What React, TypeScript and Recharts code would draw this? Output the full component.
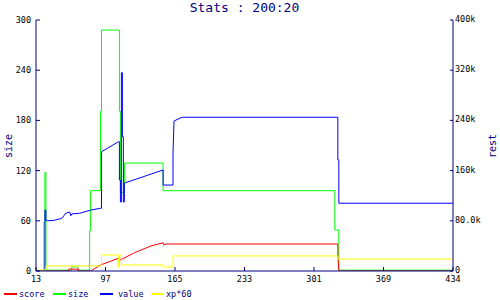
import React from 'react';
import { LineChart, Line, XAxis, YAxis } from 'recharts';

const xTickValues = [0, 70, 140, 210, 280, 350, 420];
const xTickLabels = ['13', '97', '165', '233', '301', '369', '434'];
const sizeTicks = [0, 60, 120, 180, 240, 300];
const restTicks = [0, 80, 160, 240, 320, 400];
const restTickLabels = ['0', '80.0k', '160k', '240k', '320k', '400k'];

// [x, value] pairs; size in units, others in thousands
const sizePoints: number[][] = [[0,0],[8,0],[8,58],[9,58],[9,118],[10,118],[10,1],[36,1],[36,5],[42,5],[42,1],[54,1],[54,48],[55,48],[55,96],[65,96],[65,191],[66,191],[66,288],[84,288],[84,191],[85,191],[85,94],[89,94],[89,129],[128,129],[128,96],[301,96],[301,49],[305,49],[305,1],[420,1]];
const valuePoints: number[][] = [[0,0],[9,0],[9,97],[10,97],[10,81],[12,80],[19,81],[26,84],[30,92],[34,94],[35,88],[36,91],[44,92],[55,97],[65,100],[66,100],[66,190],[83,206],[84,206],[84,145],[85,145],[85,110],[86,110],[86,316],[87,316],[87,214],[88,214],[88,110],[89,110],[89,140],[128,161],[128,137],[138,137],[138,188],[139,239],[147,245],[304,245],[304,177],[305,177],[305,108],[420,108]];
const scorePoints: number[][] = [[0,0],[33,0],[33,3],[43,3],[43,0],[55,0],[65,9.6],[76,16],[84,21],[85,17.5],[99,29],[116,40],[128,45],[129,41],[130,43],[304,43],[304,25],[305,0],[420,0]];
const xpPoints: number[][] = [[0,1.6],[10,1.6],[10,8],[66,8],[66,25.5],[83,25.5],[83,6.4],[84,6.4],[84,25.5],[86,25.5],[86,9.6],[128,9.6],[128,6.4],[138,6.4],[138,24],[304,24],[304,19],[420,19]];

const toData = (pts: number[][]) => pts.map(([x, v]) => ({ x, v }));

const NAVY = '#000080';
const MONO = '"DejaVu Sans Mono", monospace';

const legendItems = [
  { name: 'score', color: '#ff0000', lx: 4, tx: 19 },
  { name: 'size', color: '#00ff00', lx: 53, tx: 68 },
  { name: 'value', color: '#0000ff', lx: 100, tx: 118 },
  { name: 'xp*60', color: '#ffff00', lx: 151, tx: 166 },
];

export default function App() {
  const tickStyle = { fontFamily: MONO, fontSize: 8.5, fill: '#000' };
  return (
    <div style={{ position: 'absolute', left: 0, top: 0, width: 500, height: 300, background: '#fff' }}>
      <LineChart width={500} height={300} margin={{ top: 20, right: 0, left: 0, bottom: 0 }}>
        <XAxis
          dataKey="x"
          type="number"
          domain={[0, 420]}
          ticks={xTickValues}
          tickFormatter={(v: number) => xTickLabels[xTickValues.indexOf(v)] ?? ''}
          height={29}
          stroke={NAVY}
          tickSize={-4}
          tickMargin={9}
          tick={tickStyle}
          allowDataOverflow
        />
        <YAxis
          yAxisId="left"
          orientation="left"
          domain={[0, 300]}
          ticks={sizeTicks}
          width={36}
          stroke={NAVY}
          tickSize={-4}
          tickMargin={9}
          tick={tickStyle}
          allowDataOverflow
        />
        <YAxis
          yAxisId="right"
          orientation="right"
          domain={[0, 400]}
          ticks={restTicks}
          tickFormatter={(v: number) => restTickLabels[restTicks.indexOf(v)] ?? ''}
          width={47}
          stroke={NAVY}
          tickSize={-3}
          tickMargin={5}
          tick={{ ...tickStyle, textAnchor: 'start', dy: -1 }}
          allowDataOverflow
        />
        <Line yAxisId="left" data={toData(sizePoints)} dataKey="v" stroke="#00ff00" strokeWidth={1} dot={false} type="linear" isAnimationActive={false} />
        <Line yAxisId="right" data={toData(valuePoints)} dataKey="v" stroke="#0000ff" strokeWidth={1} dot={false} type="linear" isAnimationActive={false} />
        <Line yAxisId="right" data={toData(scorePoints)} dataKey="v" stroke="#ff0000" strokeWidth={1} dot={false} type="linear" isAnimationActive={false} />
        <Line yAxisId="right" data={toData(xpPoints)} dataKey="v" stroke="#ffff00" strokeWidth={1} dot={false} type="linear" isAnimationActive={false} />
      </LineChart>
      <div style={{ position: 'absolute', left: 36, width: 417, top: 1, textAlign: 'center', fontFamily: MONO, fontSize: 13, lineHeight: '14px', color: NAVY }}>
        Stats : 200:20
      </div>
      <div style={{ position: 'absolute', left: 8.5, top: 146, fontFamily: MONO, fontSize: 10, lineHeight: '10px', color: NAVY, transform: 'translate(-50%, -50%) rotate(-90deg)', whiteSpace: 'nowrap' }}>
        size
      </div>
      <div style={{ position: 'absolute', left: 493, top: 146, fontFamily: MONO, fontSize: 10, lineHeight: '10px', color: NAVY, transform: 'translate(-50%, -50%) rotate(-90deg)', whiteSpace: 'nowrap' }}>
        rest
      </div>
      {legendItems.map((it) => (
        <React.Fragment key={it.name}>
          <div style={{ position: 'absolute', left: it.lx, top: 293, width: 13, height: 2, background: it.color }} />
          <div style={{ position: 'absolute', left: it.tx, top: 289, fontFamily: MONO, fontSize: 8.5, lineHeight: '10px', color: NAVY, whiteSpace: 'nowrap' }}>
            {it.name}
          </div>
        </React.Fragment>
      ))}
    </div>
  );
}
